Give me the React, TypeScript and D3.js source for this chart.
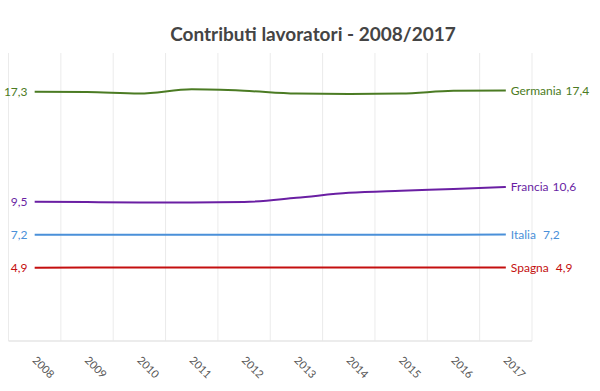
import React, { useEffect, useRef } from 'react';
import * as d3 from 'd3';

const years = ['2008', '2009', '2010', '2011', '2012', '2013', '2014', '2015', '2016', '2017'];
const names = ['Germania', 'Francia', 'Italia', 'Spagna'];
const germania = [17.27, 17.25, 17.14, 17.44, 17.34, 17.14, 17.12, 17.14, 17.34, 17.36];
const francia = [9.53, 9.5, 9.48, 9.48, 9.51, 9.8, 10.15, 10.3, 10.42, 10.56];
const italia = [7.2, 7.2, 7.2, 7.2, 7.2, 7.2, 7.2, 7.2, 7.2, 7.21];
const spagna = [4.88, 4.9, 4.9, 4.9, 4.9, 4.9, 4.9, 4.9, 4.9, 4.9];
const colors = ['#4b7b23', '#6a1fa3', '#4a90d9', '#c40f0f'];

const App = () => {
  const svgRef = useRef<SVGSVGElement>(null);

  useEffect(() => {
    const width = 600;
    const height = 391;
    const margin = { top: 53, right: 68, bottom: 50, left: 8.5 };
    const series = [germania, francia, italia, spagna];

    const svg = d3.select(svgRef.current);
    svg.selectAll('*').remove();

    const font = "'Source Sans Pro', Lato, 'Open Sans', sans-serif";

    const x = d3
      .scaleBand()
      .domain(years)
      .range([margin.left, width - margin.right]);
    const cx = (d: string) => (x(d) as number) + x.bandwidth() / 2;

    const y = d3
      .scaleLinear()
      .domain([0, 20])
      .range([height - margin.bottom - 4, margin.top]);

    // Grid
    const grid = svg.append('g');
    d3.range(years.length + 1).forEach((i) => {
      const gx = margin.left + i * x.step();
      grid
        .append('line')
        .attr('x1', gx)
        .attr('x2', gx)
        .attr('y1', margin.top)
        .attr('y2', height - margin.bottom)
        .attr('stroke', '#ebebeb')
        .attr('stroke-width', 1);
    });
    grid
      .append('line')
      .attr('x1', margin.left)
      .attr('x2', width - margin.right)
      .attr('y1', height - margin.bottom)
      .attr('y2', height - margin.bottom)
      .attr('stroke', '#e6e6e6')
      .attr('stroke-width', 1.5);

    // Lines
    const line = d3
      .line<number>()
      .x((_, i) => cx(years[i]))
      .y((d) => y(d))
      .curve(d3.curveMonotoneX);

    const fmt = (v: number) => v.toFixed(1).replace('.', ',');

    series.forEach((s, k) => {
      svg
        .append('path')
        .datum(s)
        .attr('d', line)
        .attr('fill', 'none')
        .attr('stroke', colors[k])
        .attr('stroke-width', 2);

      svg
        .append('text')
        .attr('x', 27.5)
        .attr('y', y(s[0]))
        .attr('dy', '0.35em')
        .attr('text-anchor', 'end')
        .attr('fill', colors[k])
        .attr('font-family', font)
        .attr('font-size', 12)
        .text(fmt(s[0]));

      const last = s[s.length - 1];
      const lbl = svg
        .append('text')
        .attr('x', cx(years[years.length - 1]) + 5)
        .attr('y', y(last))
        .attr('dy', '0.35em')
        .attr('fill', colors[k])
        .attr('font-family', font)
        .attr('font-size', 12);
      lbl.append('tspan').text(names[k]);
      lbl
        .append('tspan')
        .attr('dx', last < 10 ? 7 : 4)
        .text(fmt(last));
    });

    // X labels
    years.forEach((yr) => {
      const tx = cx(yr) - 3;
      const ty = height - margin.bottom + 20;
      svg
        .append('text')
        .attr('transform', `translate(${tx},${ty}) rotate(45)`)
        .attr('fill', '#555')
        .attr('font-family', font)
        .attr('font-size', 11)
        .text(yr);
    });

    // Title
    svg
      .append('text')
      .attr('x', 313)
      .attr('y', 41)
      .attr('text-anchor', 'middle')
      .attr('fill', '#444')
      .attr('font-family', font)
      .attr('font-weight', 'bold')
      .attr('font-size', 19)
      .text('Contributi lavoratori - 2008/2017');
  }, []);

  return (
    <svg
      ref={svgRef}
      width={600}
      height={391}
      style={{ position: 'absolute', left: 0, top: 0, background: '#fff' }}
    ></svg>
  );
};

export default App;
